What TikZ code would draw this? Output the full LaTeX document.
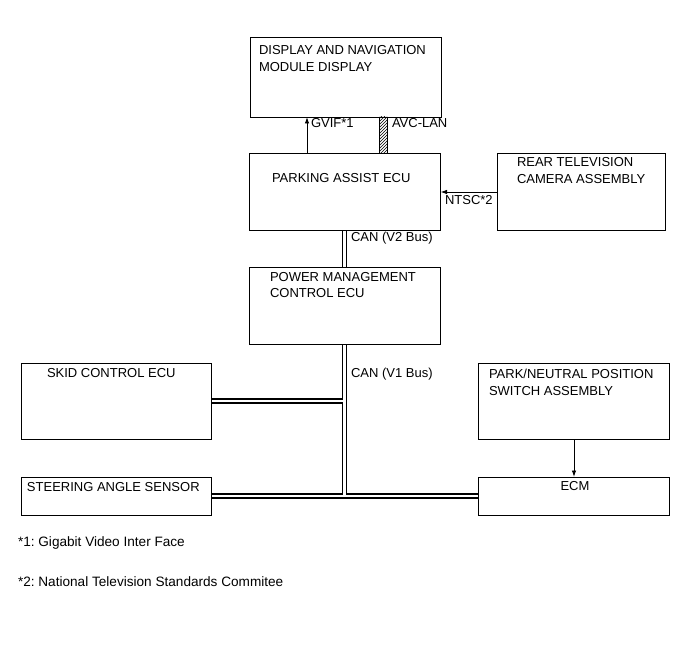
\documentclass[tikz,border=0pt]{standalone}
\usepackage{fontspec}
\setmainfont{Liberation Sans}
\usetikzlibrary{calc,patterns,arrows.meta}
\tikzset{
  box/.style={draw=black, line width=0.9pt, fill=white, inner sep=0pt, outer sep=0pt},
  txt/.style={inner sep=0pt, outer sep=0pt, font=\fontsize{13}{17}\selectfont, align=left},
  note/.style={txt, font=\fontsize{13.6}{17}\selectfont},
  busout/.style={line width=5.5pt, black},
  busin/.style={line width=2.2pt, white},
  sig/.style={line width=0.9pt, -{Latex[length=6.5pt,width=4.5pt]}},
}
\frenchspacing
\begin{document}
\begin{tikzpicture}[x=1pt,y=-1pt]
\useasboundingbox[fill=white] (0,0) rectangle (691,660);
% bus (double lines)
\coordinate (b1) at (344.5,230);
\coordinate (b2) at (344.5,267);
\coordinate (b3) at (344.5,344);
\coordinate (b4) at (344.5,496);
\coordinate (sk) at (211,401);
\coordinate (skb) at (344.5,401);
\coordinate (st) at (211,496);
\coordinate (ec) at (478,496);
\foreach \s in {busout,busin}{
  \draw[\s] (b1) -- (b2);
  \draw[\s] (b3) -- (b4);
  \draw[\s] (sk) -- (skb);
  \draw[\s] (st) -- (ec);
}
% boxes
\node[box, minimum width=191, minimum height=80] (disp) at (345.5,77) {};
\node[box, minimum width=191, minimum height=77] (park) at (344.5,191.5) {};
\node[box, minimum width=168, minimum height=77] (cam) at (581,191.5) {};
\node[box, minimum width=191, minimum height=77] (pwr) at (344.5,305.5) {};
\node[box, minimum width=190, minimum height=76] (skid) at (116,401) {};
\node[box, minimum width=190, minimum height=38] (steer) at (116,496) {};
\node[box, minimum width=191, minimum height=76] (pn) at (573.5,401) {};
\node[box, minimum width=191, minimum height=38] (ecm) at (573.5,496) {};
% texts
\node[txt, anchor=west] (tdisp) at (259,50) {DISPLAY AND NAVIGATION};
\node[txt, anchor=west] (tdisp2) at (259,67) {MODULE DISPLAY};
\node[txt, anchor=west] (tpark) at (272,178) {PARKING ASSIST ECU};
\node[txt, anchor=west] (tcam) at (517,162) {REAR TELEVISION};
\node[txt, anchor=west] (tcam2) at (517,179) {CAMERA ASSEMBLY};
\node[txt, anchor=west] (tpwr) at (270,277) {POWER MANAGEMENT};
\node[txt, anchor=west] (tpwr2) at (270,293) {CONTROL ECU};
\node[txt, anchor=west] (tskid) at (47,373) {SKID CONTROL ECU};
\node[txt, anchor=west] (tsteer) at (27,487) {STEERING ANGLE SENSOR};
\node[txt, anchor=west] (tpn) at (489,374) {PARK/NEUTRAL POSITION};
\node[txt, anchor=west] (tpn2) at (489,391) {SWITCH ASSEMBLY};
\node[txt] (tecm) at (575,486.5) {ECM};
% connectors
\coordinate (gA) at (307,153);
\coordinate (gB) at (307,117);
\draw[sig] (gA) -- (gB);
\node[txt, anchor=west] (lg) at (311,123) {GVIF*1};
\node[draw=black, line width=0.6pt, pattern=north east lines, minimum width=8, minimum height=36, inner sep=0pt] (avc) at (383,135) {};
\node[txt, anchor=west] (la) at (392,123) {AVC-LAN};
\coordinate (nA) at (497,192);
\coordinate (nB) at (440.5,192);
\draw[sig] (nA) -- (nB);
\node[txt, anchor=west] (ln) at (445,200) {NTSC*2};
\node[txt, anchor=west] (lv2) at (351,238) {CAN (V2 Bus)};
\node[txt, anchor=west] (lv1) at (351,374) {CAN (V1 Bus)};
\draw[sig] (pn.south -| 574,0) -- (ecm.north -| 574,0);
% footnotes
\node[note, anchor=west] (f1) at (18,543) {*1: Gigabit Video Inter Face};
\node[note, anchor=west] (f2) at (18,582) {*2: National Television Standards Commitee};
\end{tikzpicture}
\end{document}
